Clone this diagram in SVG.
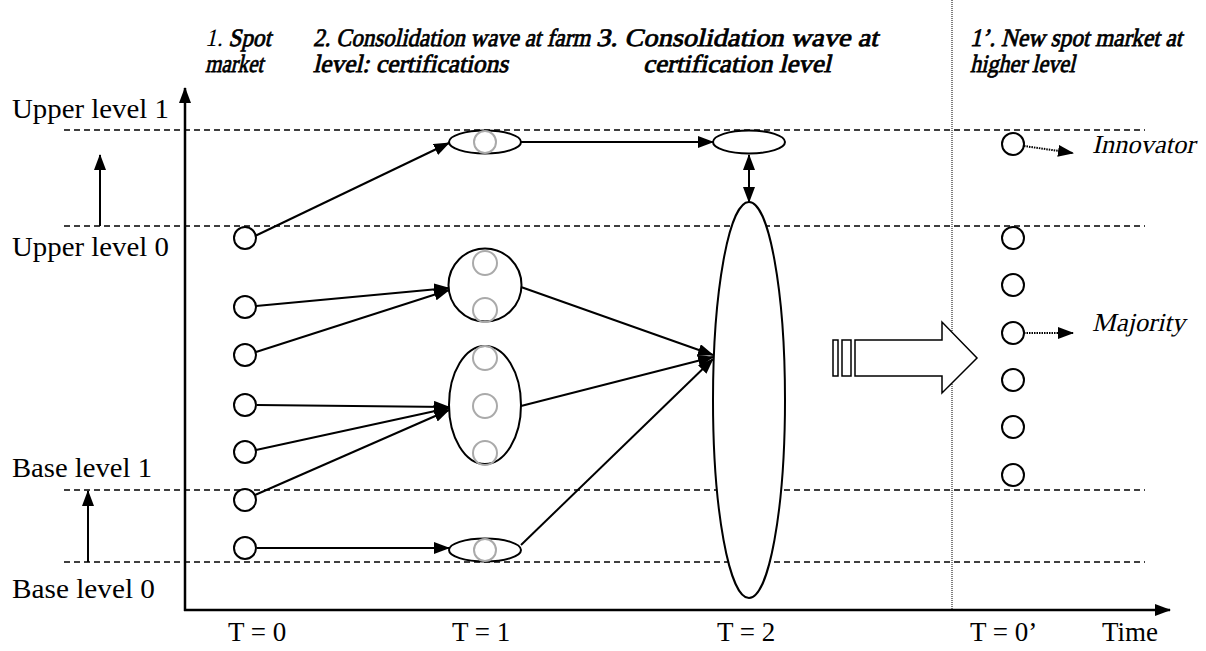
<svg xmlns="http://www.w3.org/2000/svg" width="1206" height="651" viewBox="0 0 1206 651">
<style>
text{font-family:"Liberation Serif","Times New Roman",serif;fill:#000;font-weight:normal;font-style:normal}
.lbl{font-size:27px}
.hd{font-size:25px;stroke:#000;stroke-width:0.8}
.it{font-size:26px}
.dash{stroke:#000;stroke-width:1.5;stroke-dasharray:6 4;fill:none}
.node{fill:#fff;stroke:#000;stroke-width:2}
.gray{fill:none;stroke:#aaa;stroke-width:2}
.arr{stroke:#000;stroke-width:2;fill:none;marker-end:url(#ah)}
.dot{stroke:#000;stroke-width:2;stroke-dasharray:1.5 1;fill:none;marker-end:url(#ah)}
</style>
<defs>
<marker id="ah" markerUnits="userSpaceOnUse" markerWidth="16" markerHeight="12" refX="15" refY="6" orient="auto">
<path d="M0,0 L16,6 L0,12 z" fill="#000"/>
</marker>
<marker id="ahs" markerUnits="userSpaceOnUse" markerWidth="16" markerHeight="12" refX="15" refY="6" orient="auto-start-reverse">
<path d="M0,0 L16,6 L0,12 z" fill="#000"/>
</marker>
</defs>
<rect width="1206" height="651" fill="#fff"/>

<g id="grid">
<line class="dash" x1="64" y1="130" x2="1145" y2="130"/>
<line class="dash" x1="64" y1="226" x2="1145" y2="226"/>
<line class="dash" x1="64" y1="490" x2="1145" y2="490"/>
<line class="dash" x1="64" y1="562" x2="1145" y2="562"/>
<line x1="952" y1="0" x2="952" y2="610" stroke="#000" stroke-width="1" stroke-dasharray="1 1"/>
</g>

<g id="labels">
<text class="lbl" x="12" y="118" textLength="157" lengthAdjust="spacingAndGlyphs">Upper level 1</text>
<text class="lbl" x="12" y="256" textLength="157" lengthAdjust="spacingAndGlyphs">Upper level 0</text>
<text class="lbl" x="12" y="477" textLength="140" lengthAdjust="spacingAndGlyphs">Base level 1</text>
<text class="lbl" x="12" y="598" textLength="143" lengthAdjust="spacingAndGlyphs">Base level 0</text>
<text class="lbl" x="228" y="641">T = 0</text>
<text class="lbl" x="452" y="641">T = 1</text>
<text class="lbl" x="717" y="641">T = 2</text>
<text class="lbl" x="970" y="641">T = 0’</text>
<text class="lbl" x="1102" y="641">Time</text>
<text class="hd" transform="translate(205,46) skewX(-13)" textLength="66" lengthAdjust="spacingAndGlyphs"><tspan stroke-width="0">1.</tspan> Spot</text>
<text class="hd" transform="translate(205,72) skewX(-13)" textLength="58" lengthAdjust="spacingAndGlyphs">market</text>
<text class="hd" transform="translate(313,46) skewX(-13)" textLength="277" lengthAdjust="spacingAndGlyphs">2. Consolidation wave at farm</text>
<text class="hd" transform="translate(313,72) skewX(-13)" textLength="195" lengthAdjust="spacingAndGlyphs">level: certifications</text>
<text class="hd" transform="translate(596,46) skewX(-13)" textLength="282" lengthAdjust="spacingAndGlyphs">3. Consolidation wave at</text>
<text class="hd" transform="translate(643,72) skewX(-13)" textLength="188" lengthAdjust="spacingAndGlyphs">certification level</text>
<text class="hd" transform="translate(970,46) skewX(-13)" textLength="212" lengthAdjust="spacingAndGlyphs">1’. New spot market at</text>
<text class="hd" transform="translate(970,72) skewX(-13)" textLength="105" lengthAdjust="spacingAndGlyphs">higher level</text>
<text class="it" transform="translate(1092,153) skewX(-13)" textLength="103" lengthAdjust="spacingAndGlyphs">Innovator</text>
<text class="it" transform="translate(1092,331) skewX(-13)" textLength="93" lengthAdjust="spacingAndGlyphs">Majority</text>
</g>

<g id="axes">
<line x1="185" y1="611" x2="185" y2="88" stroke="#000" stroke-width="2.5" marker-end="url(#ah)"/>
<line x1="184" y1="610" x2="1170" y2="610" stroke="#000" stroke-width="2.5" marker-end="url(#ah)"/>
<line x1="100" y1="226" x2="100" y2="155" stroke="#000" stroke-width="2" marker-end="url(#ah)"/>
<line x1="88" y1="562" x2="88" y2="491" stroke="#000" stroke-width="2" marker-end="url(#ah)"/>
</g>

<g id="connectors">
<line class="arr" x1="255" y1="236" x2="449" y2="143"/>
<line class="arr" x1="521" y1="142" x2="713" y2="142"/>
<line x1="749" y1="155" x2="749" y2="202" stroke="#000" stroke-width="2" marker-start="url(#ahs)" marker-end="url(#ahs)"/>
<line class="arr" x1="256" y1="306" x2="449" y2="288"/>
<line class="arr" x1="256" y1="352" x2="449" y2="290"/>
<line class="arr" x1="257" y1="405" x2="449" y2="407"/>
<line class="arr" x1="256" y1="450" x2="449" y2="408"/>
<line class="arr" x1="255" y1="495" x2="449" y2="410"/>
<line class="arr" x1="257" y1="548" x2="449" y2="548"/>
<line class="arr" x1="521" y1="287" x2="713" y2="355"/>
<line class="arr" x1="521" y1="406" x2="713" y2="357"/>
<line class="arr" x1="521" y1="545" x2="713" y2="359"/>
<line class="dot" x1="1024" y1="146" x2="1073" y2="153"/>
<line class="dot" x1="1024" y1="333" x2="1073" y2="333"/>
</g>

<g id="spot0">
<circle class="node" cx="245" cy="238" r="11"/>
<circle class="node" cx="245" cy="307" r="11"/>
<circle class="node" cx="245" cy="355" r="11"/>
<circle class="node" cx="245" cy="405" r="11"/>
<circle class="node" cx="245" cy="452" r="11"/>
<circle class="node" cx="245" cy="500" r="11"/>
<circle class="node" cx="245" cy="548" r="11"/>
</g>

<g id="t1-top">
<ellipse class="node" cx="485" cy="142" rx="36" ry="11.5"/>
<circle class="gray" cx="485" cy="142" r="11"/>
</g>
<g id="t1-circle">
<circle class="node" cx="485" cy="285" r="36.5"/>
<circle class="gray" cx="485" cy="263" r="12"/>
<circle class="gray" cx="485" cy="310" r="12"/>
</g>
<g id="t1-ellipse">
<ellipse class="node" cx="485" cy="405" rx="36" ry="59"/>
<circle class="gray" cx="485" cy="358" r="12"/>
<circle class="gray" cx="485" cy="406" r="12"/>
<circle class="gray" cx="485" cy="453" r="12"/>
</g>
<g id="t1-bottom">
<ellipse class="node" cx="485" cy="550" rx="36" ry="11.5"/>
<circle class="gray" cx="485" cy="550" r="11"/>
</g>

<g id="t2-top">
<ellipse class="node" cx="749" cy="142" rx="36" ry="11.5"/>
</g>
<g id="t2-big">
<ellipse class="node" cx="749" cy="400" rx="36" ry="198"/>
</g>

<g id="block-arrow">
<rect x="833" y="340" width="5" height="36" fill="#fff" stroke="#000" stroke-width="1.5"/>
<rect x="842" y="340" width="9" height="36" fill="#fff" stroke="#000" stroke-width="1.5"/>
<path d="M855,340 L942,340 L942,322 L977,358 L942,393 L942,376 L855,376 Z" fill="#fff" stroke="#000" stroke-width="1.5"/>
</g>

<g id="spot1">
<circle class="node" cx="1013" cy="144" r="11"/>
<circle class="node" cx="1013" cy="238" r="11"/>
<circle class="node" cx="1013" cy="285" r="11"/>
<circle class="node" cx="1013" cy="333" r="11"/>
<circle class="node" cx="1013" cy="380" r="11"/>
<circle class="node" cx="1013" cy="427" r="11"/>
<circle class="node" cx="1013" cy="475" r="11"/>
</g>
</svg>
